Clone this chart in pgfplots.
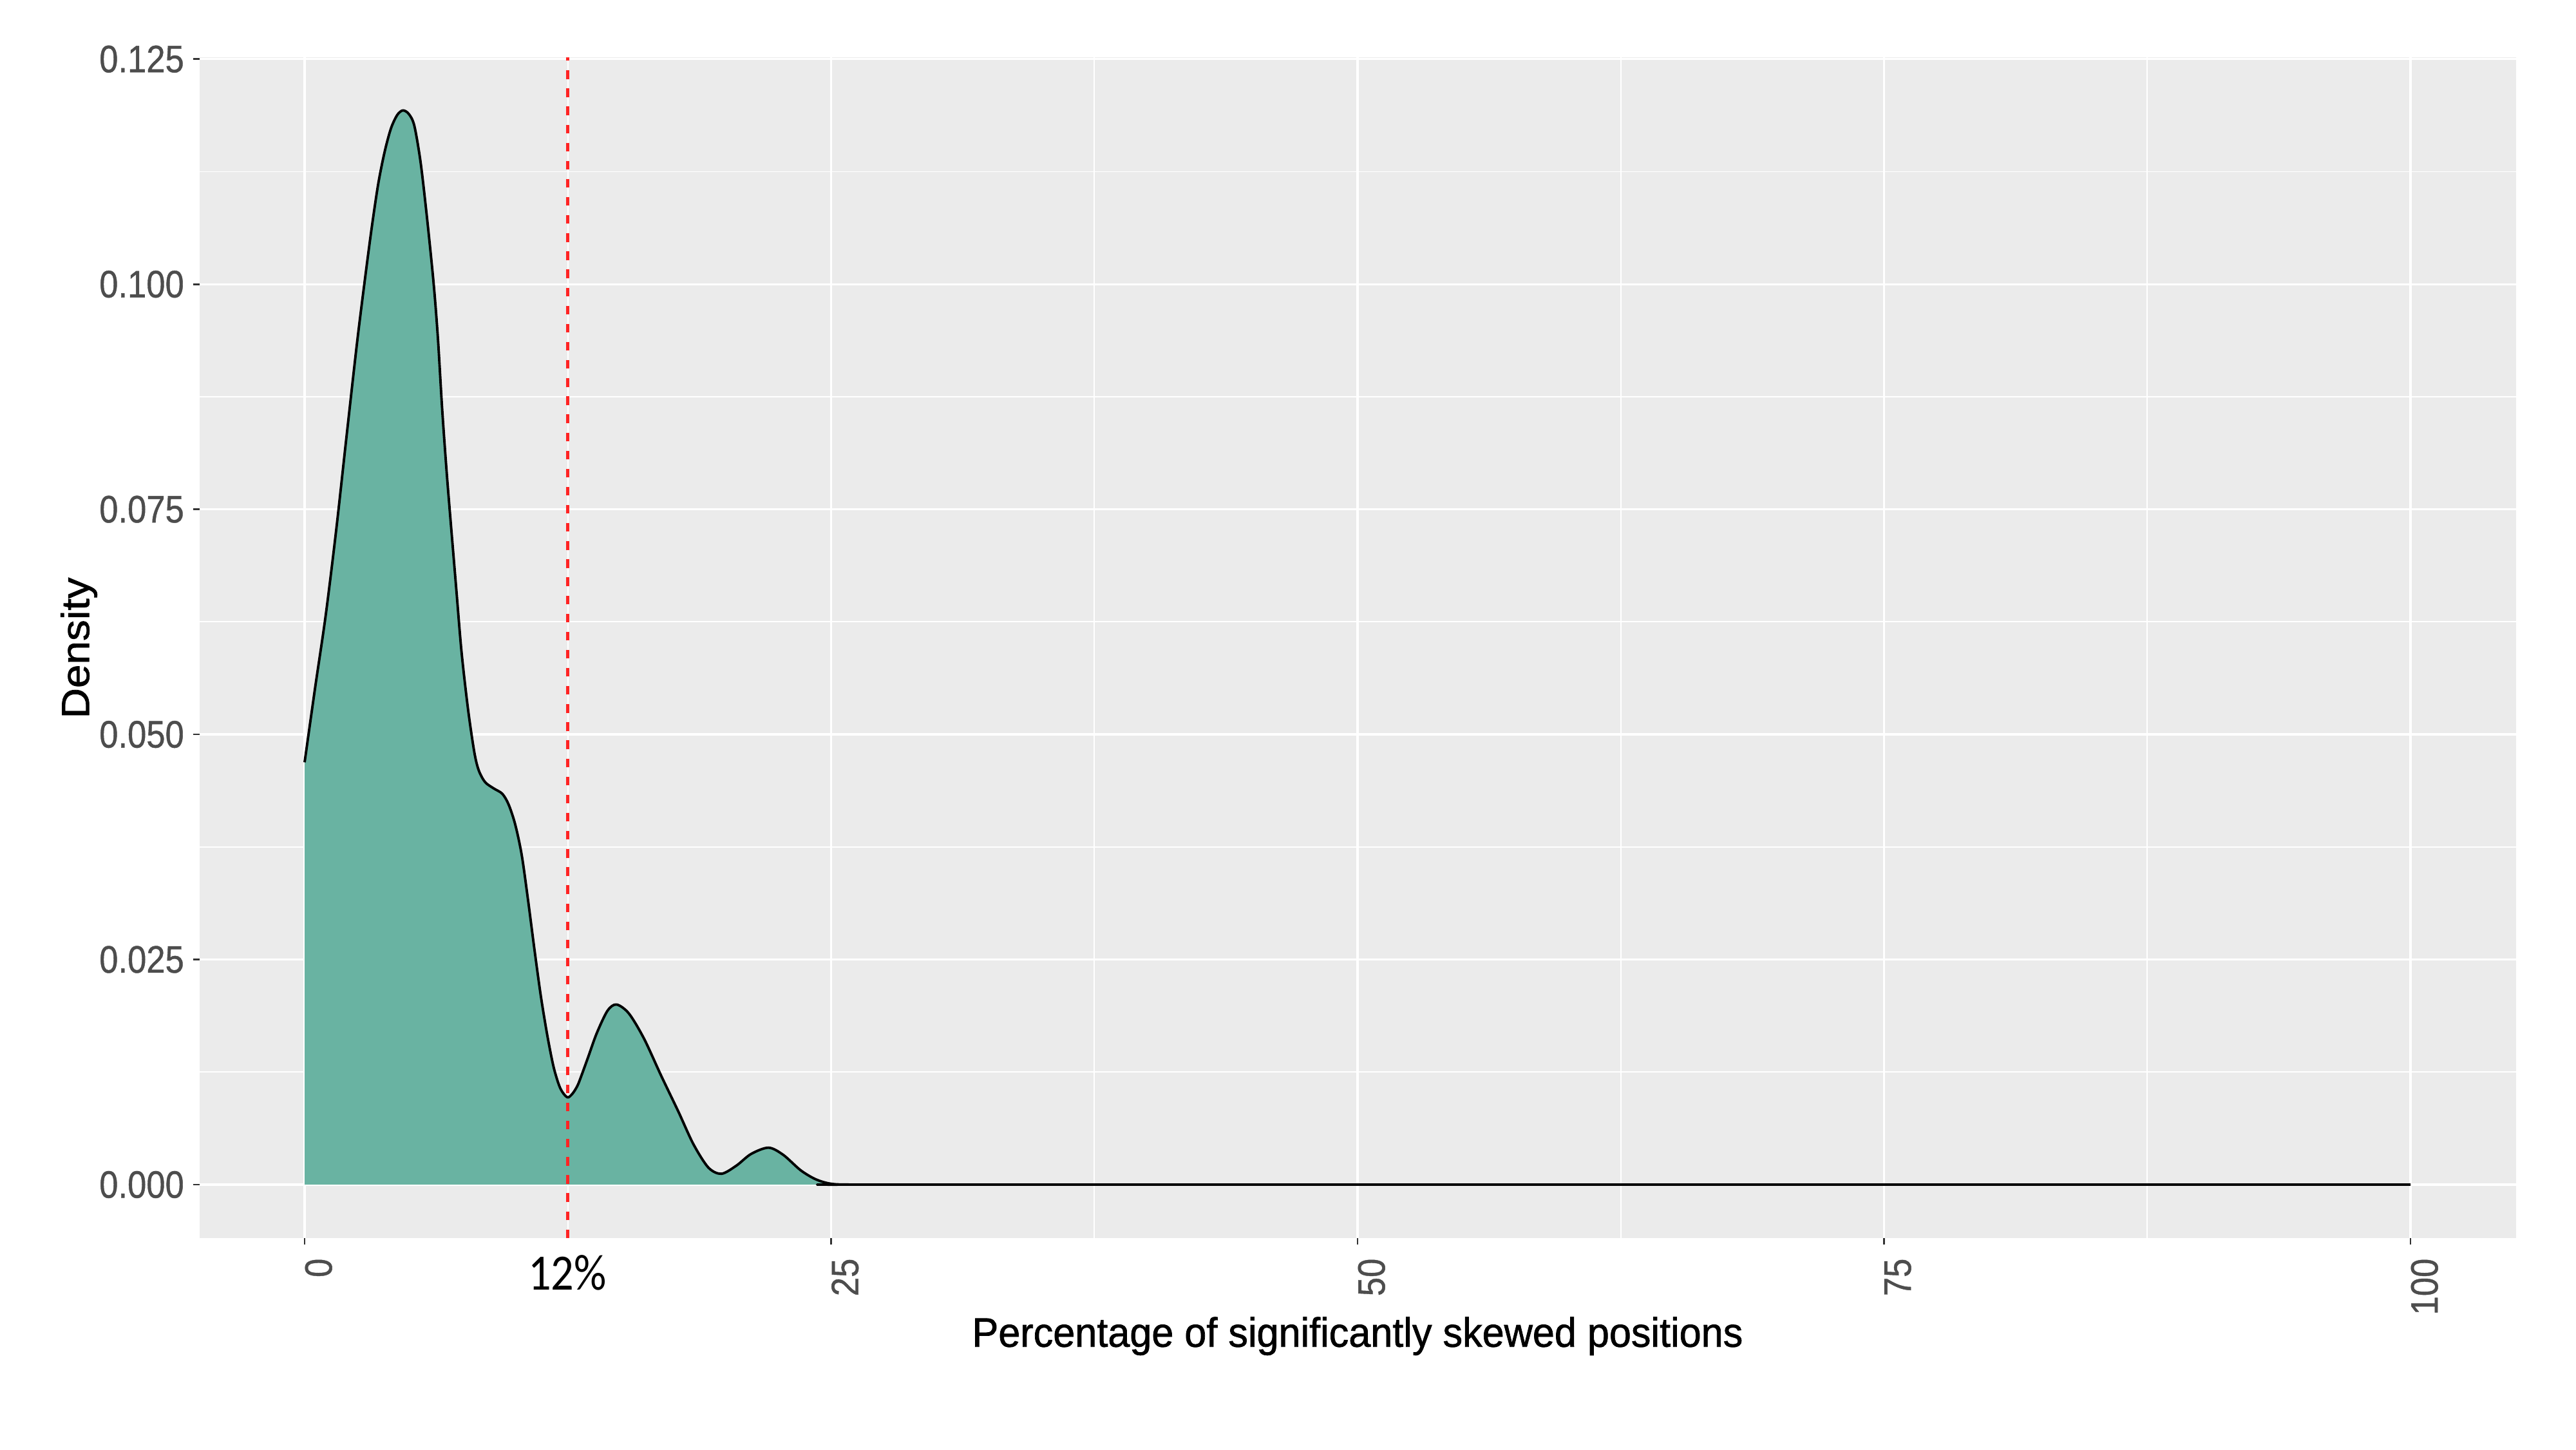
\documentclass[border=0pt]{standalone}
\usepackage{fontspec}
\setmainfont{Liberation Sans}
\newfontfamily\calibri{Carlito}
\newfontfamily\tickfont[FakeBold=0.8]{Liberation Sans}
\newfontfamily\titlefont[FakeBold=1.2]{Liberation Sans}
\usepackage{graphicx}
\usepackage{pgfplots}
\usepackage{pgfplotstable}
\pgfplotsset{compat=1.18}
\definecolor{panel}{HTML}{EBEBEB}
\definecolor{dens}{HTML}{69B3A2}
\definecolor{tickc}{HTML}{4D4D4D}
\definecolor{tickm}{HTML}{333333}
\definecolor{vred}{HTML}{FF2424}
\newcommand\tl[1]{\scalebox{0.885}[1]{#1}}

\pgfplotstableread{
x y
0 0.0469
0.5 0.0552
1.0 0.0632
1.5 0.0727
2.0 0.0833
2.5 0.0937
2.9 0.1012
3.2 0.1065
3.5 0.1112
3.8 0.1147
4.1 0.1173
4.4 0.1188
4.67 0.1193
4.95 0.1189
5.21 0.1176
5.51 0.1135
5.82 0.1072
6.13 0.1000
6.33 0.0940
6.53 0.0862
6.74 0.0793
6.94 0.0735
7.20 0.0662
7.45 0.0592
7.76 0.0528
8.06 0.0480
8.27 0.0460
8.57 0.0447
8.98 0.0440
9.39 0.0434
9.69 0.0422
10.00 0.0400
10.31 0.0366
10.61 0.0316
10.92 0.0260
11.22 0.0209
11.53 0.0165
11.83 0.0130
12.14 0.0107
12.47 0.0097
12.72 0.0101
12.96 0.0110
13.16 0.0122
13.47 0.0142
13.87 0.0168
14.38 0.0193
14.81 0.0200
15.40 0.0190
16.12 0.0162
16.93 0.0121
17.75 0.0081
18.46 0.0045
19.17 0.0019
19.79 0.0012
20.50 0.0021
21.20 0.0034
22.03 0.0041
22.73 0.0033
23.55 0.0016
24.26 0.0006
24.98 0.0001
26.00 0.0
30.00 0.0
100.00 0.0
}\densdata

\begin{document}
\begin{tikzpicture}
\useasboundingbox (0,0) rectangle (40cm,22.5cm);
\fill[white] (0,0) rectangle (40cm,22.5cm);
\begin{axis}[
  at={(3.095cm,3.28cm)}, anchor=south west,
  width=35.97cm, height=18.325cm, scale only axis,
  xmin=-5, xmax=105, ymin=-0.00594, ymax=0.12516,
  axis background/.style={fill=panel},
  axis line style={draw=none},
  xtick={0,25,50,75,100},
  xticklabels={\tl{0},\tl{25},\tl{50},\tl{75},\tl{100}},
  ytick={0,0.025,0.05,0.075,0.1,0.125},
  yticklabels={\tl{0.000},\tl{0.025},\tl{0.050},\tl{0.075},\tl{0.100},\tl{0.125}},
  minor xtick={12.5,37.5,62.5,87.5},
  minor ytick={0.0125,0.0375,0.0625,0.0875,0.1125},
  grid=both,
  major grid style={white, line width=0.95pt},
  minor grid style={white, line width=0.5pt},
  tick align=outside, xtick pos=bottom, ytick pos=left,
  major tick length=0.1cm, minor tick length=0pt,
  every tick/.style={tickm, line width=0.8pt},
  xticklabel style={yshift=-0.21cm, rotate=90, anchor=north east, inner sep=0pt,
    font=\tickfont\fontsize{16.9}{17}\selectfont, text=tickc},
  yticklabel style={xshift=-0.13cm, anchor=east, inner sep=0pt,
    font=\tickfont\fontsize{16.9}{17}\selectfont, text=tickc},
]
\addplot[draw=none, fill=dens, smooth, tension=0.5] table[x=x, y=y] {\densdata} \closedcycle;
\addplot[black, line width=1.1pt, smooth, tension=0.5, line join=round] table[x=x, y=y] {\densdata};
\addplot[vred, line width=1.3pt, dash pattern=on 3.8pt off 4.2pt] coordinates {(12.5,-0.00594) (12.5,0.12516)};
\end{axis}
\node[anchor=base, rotate=90, font=\titlefont\fontsize{17.3}{18}\selectfont] at (1.383cm,12.44cm) {\scalebox{1.08}[1]{Density}};
\node[anchor=base, font=\titlefont\fontsize{18.15}{19}\selectfont] at (21.08cm,1.593cm) {\scalebox{0.959}[1]{Percentage of significantly skewed positions}};
\node[anchor=base, font=\calibri\fontsize{22.5}{23}\selectfont] at (8.81cm,2.48cm) {\scalebox{0.89}[1]{12\%}};
\end{tikzpicture}
\end{document}
